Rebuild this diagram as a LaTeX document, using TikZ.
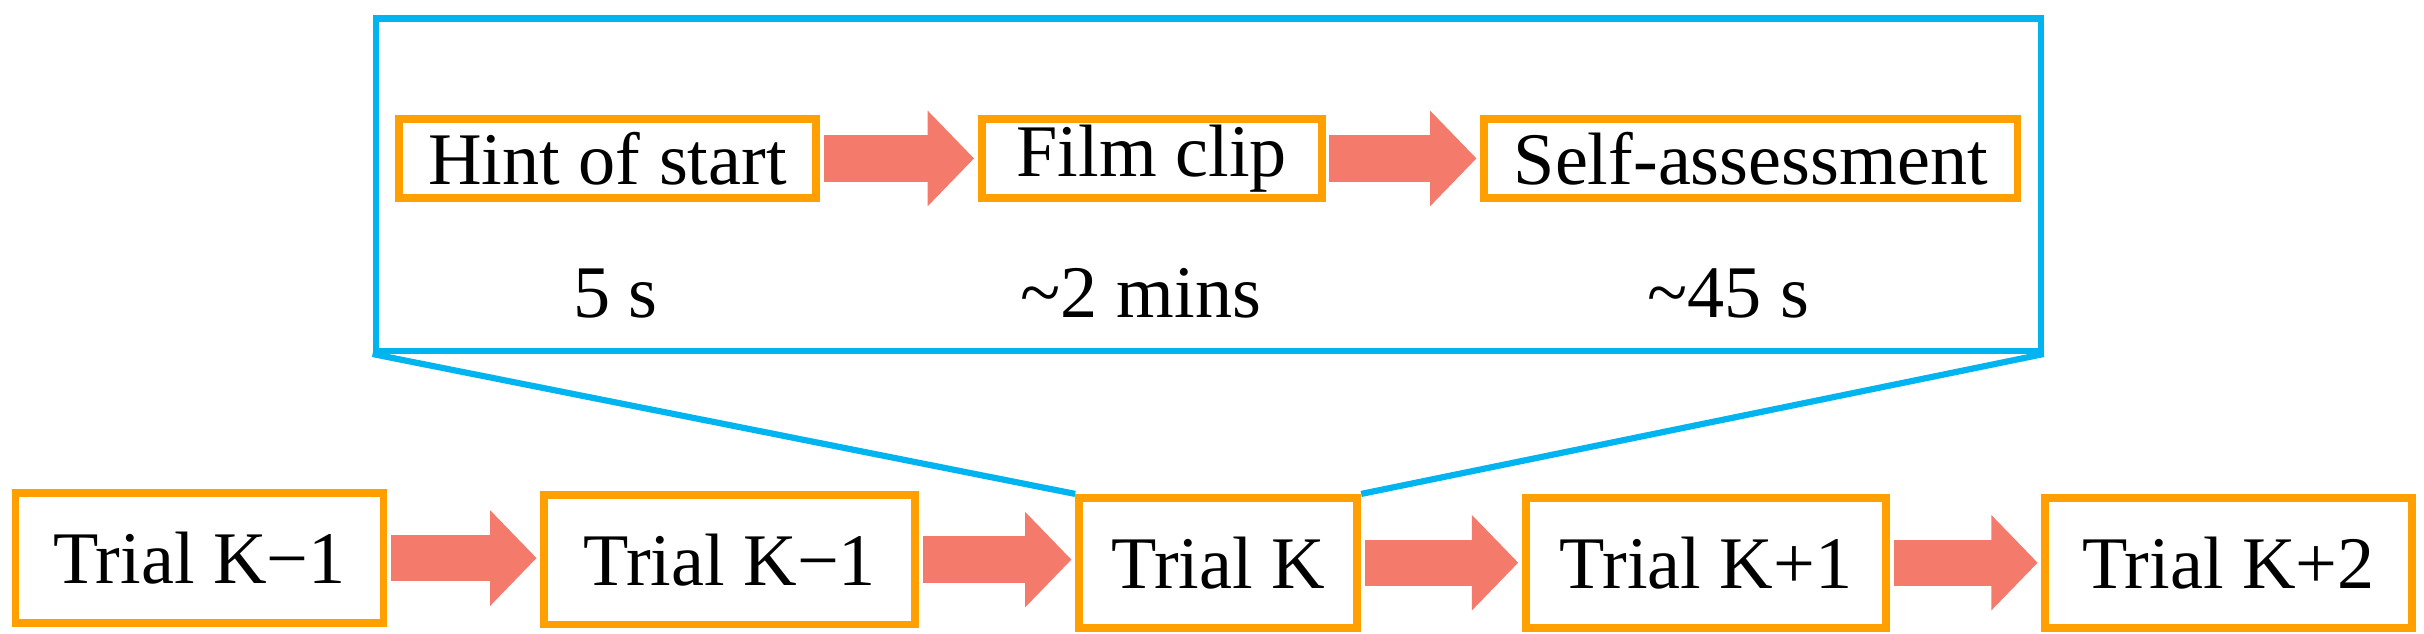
\documentclass[tikz,border=0pt]{standalone}
\usepackage{fontspec}
\setmainfont{Liberation Serif}
\usetikzlibrary{arrows.meta}
\definecolor{orng}{HTML}{FFA000}
\definecolor{blu}{HTML}{00B4F0}
\definecolor{salmon}{HTML}{F47A6C}
\begin{document}
\begin{tikzpicture}[x=0.5pt,y=-0.5pt,
  box/.style={draw=orng,line width=2.5pt,fill=white,inner sep=0pt,font=\fontsize{24}{28}\selectfont},
  tbox/.style={box,minimum height=25.5pt},
  bbox/.style={box,minimum height=42pt},
  lbl/.style={font=\fontsize{24}{28}\selectfont},
  flow/.style={salmon,line width=15pt,-{Triangle[length=15pt,width=30pt]},shorten >=1.2pt,shorten <=1.2pt}]
\useasboundingbox (0,0) rectangle (1568,410);
\node[draw=blu,line width=2pt,minimum width=538.5pt,minimum height=107.5pt,inner sep=0pt] (blue) at (781.5,119.5) {};
\node[tbox,minimum width=135pt] (hint) at (393,102.5) {Hint of start};
\node[tbox,minimum width=110pt] (film) at (745,102.5) {Film clip};
\node[tbox,minimum width=172.5pt] (self) at (1132.5,102.5) {Self-assessment};
\node[lbl] (l1) at (398,190) {5 s};
\node[lbl] (l2) at (738,190) {\textasciitilde 2 mins};
\node[lbl] (l3) at (1118,190) {\textasciitilde 45 s};
\node[bbox,minimum width=119pt] (a) at (129,361) {Trial K−1};
\node[bbox,minimum width=120pt] (b) at (472,362) {Trial K−1};
\node[bbox,minimum width=90pt] (k) at (788,364) {Trial K};
\node[bbox,minimum width=116.5pt] (c) at (1103.5,364) {Trial K+1};
\node[bbox,minimum width=118.5pt] (d) at (1441.5,364) {Trial K+2};
\draw[blu,line width=2pt] (blue.south west) -- (k.north west);
\draw[blu,line width=2pt] (blue.south east) -- (k.north east);
\draw[flow] (hint.east) -- (film.west);
\draw[flow] (film.east) -- (self.west);
\draw[flow] (a.east) -- (b.west|-a.east);
\draw[flow] (b.east) -- (k.west|-b.east);
\draw[flow] (k.east) -- (c.west);
\draw[flow] (c.east) -- (d.west);
\end{tikzpicture}
\end{document}
